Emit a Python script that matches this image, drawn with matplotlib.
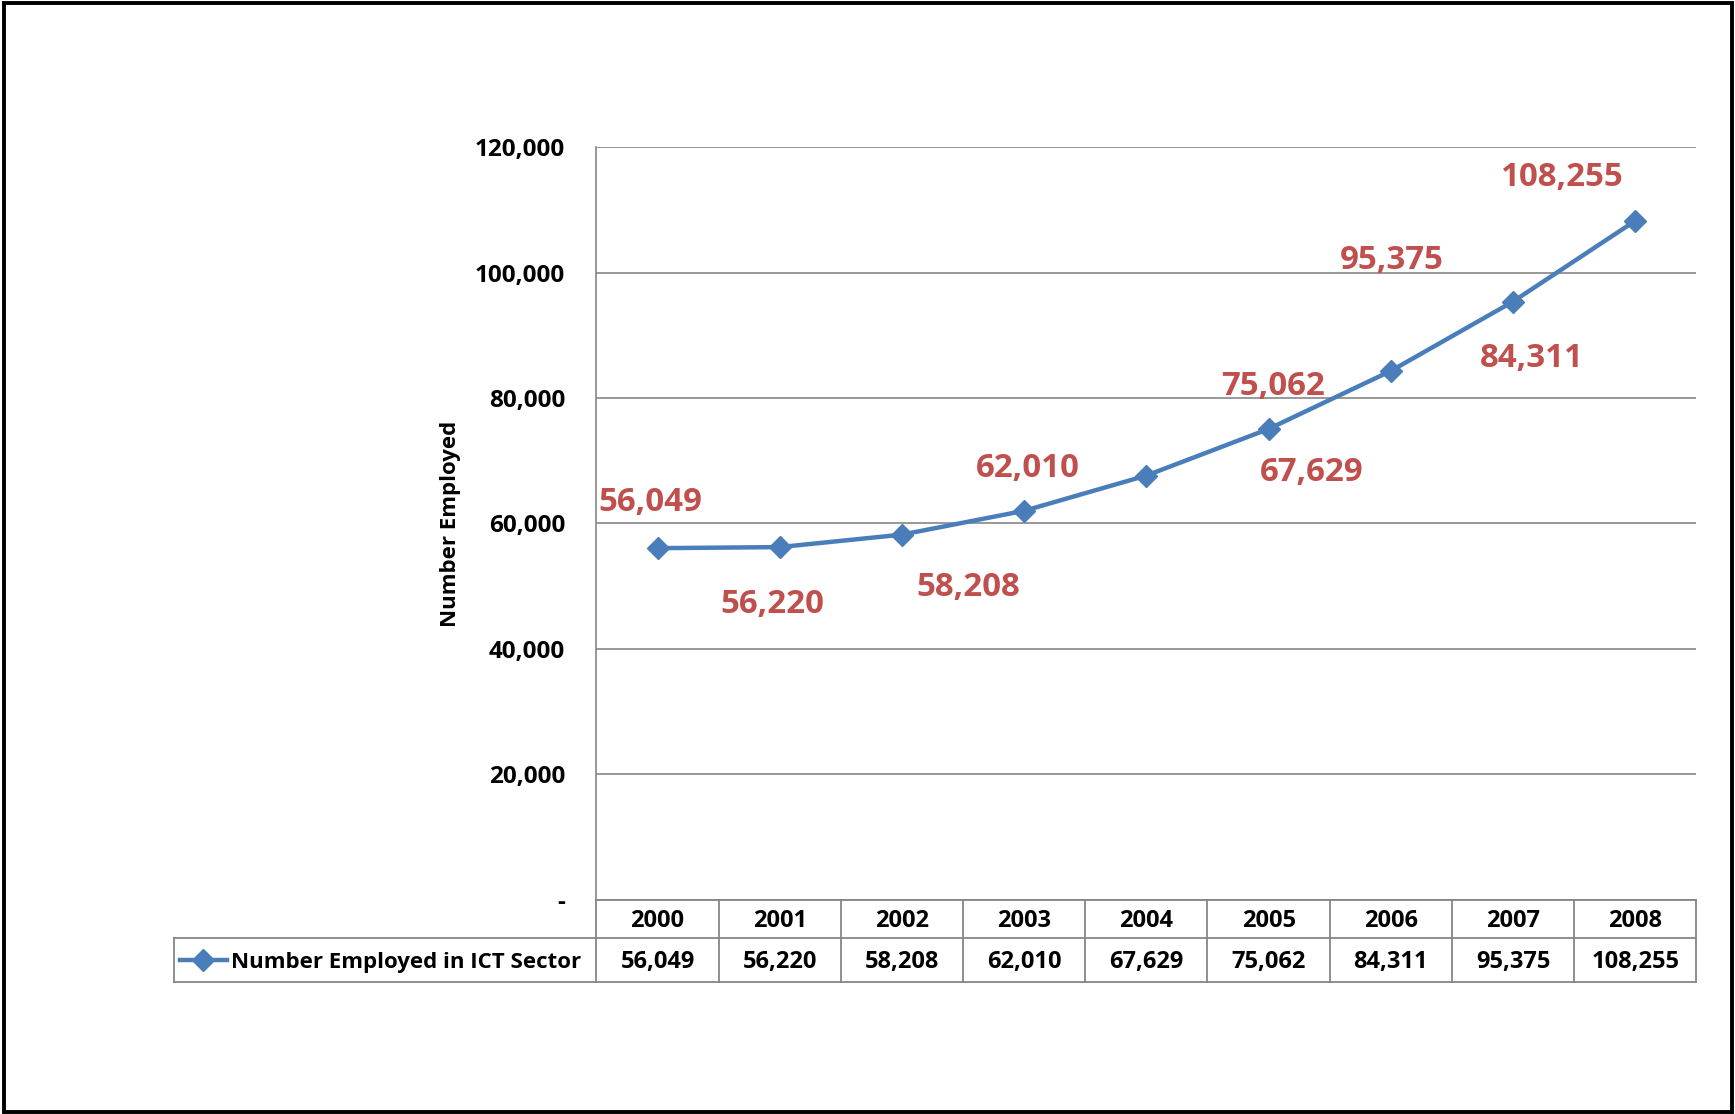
import numpy as np
import matplotlib.pyplot as plt
from matplotlib.patches import Rectangle
from matplotlib.lines import Line2D

plt.rcParams['font.family'] = ['Open Sans', 'DejaVu Sans']
plt.rcParams['font.weight'] = 'bold'

# data
years = ['2000', '2001', '2002', '2003', '2004', '2005', '2006', '2007', '2008']
employed = [56049, 56220, 58208, 62010, 67629, 75062, 84311, 95375, 108255]
series_name = 'Number Employed in ICT Sector'

# where each data label sits (category index, value) - labels in the original are scattered
label_x = [-0.06, 0.94, 2.54, 3.03, 5.35, 5.04, 7.15, 6.01, 7.40]
label_y = [63300, 47100, 49800, 68800, 68100, 81900, 86300, 102000, 115100]

line_color = '#4a7ebb'
label_color = '#c0504d'
grid_color = '#868686'

W, H = 1735, 1114
fig = plt.figure(figsize=(W / 100, H / 100), dpi=100)

# plot area in pixels
px_left, px_right, px_top, px_bottom = 596.4, 1696.3, 147.2, 899.6
row_split, table_bottom = 938.3, 981.5
legend_left = 173.7

ax = fig.add_axes([px_left / W, 1 - px_bottom / H, (px_right - px_left) / W, (px_bottom - px_top) / H])
x = np.arange(len(years))
ax.plot(x, employed, color=line_color, lw=3.2, marker='D', markersize=11, zorder=3)

ax.set_xlim(-0.5, len(years) - 0.5)
ax.set_ylim(0, 120000)
ax.set_yticks(np.arange(0, 120001, 20000))
ax.set_yticklabels(['-' if v == 0 else f'{v:,}' for v in range(0, 120001, 20000)])
ax.tick_params(axis='y', length=0, pad=22.5, labelsize=17.5)
ax.set_xticks([])
ax.grid(axis='y', color=grid_color, lw=1.2)
ax.set_axisbelow(True)
for s in ['top', 'right', 'bottom']:
    ax.spines[s].set_visible(False)
ax.spines['left'].set_color(grid_color)
ax.spines['left'].set_linewidth(1.2)
ax.set_ylabel('Number Employed', fontsize=16, fontweight='bold')
ax.yaxis.set_label_coords(-0.123, 0.5)

for lx, ly, v in zip(label_x, label_y, employed):
    ax.text(lx, ly, f'{v:,}', color=label_color, fontsize=23.8, fontweight='bold',
            ha='center', va='center')

# data table under the plot
tax = fig.add_axes([px_left / W, 1 - table_bottom / H, (px_right - px_left) / W, (table_bottom - px_bottom) / H])
tax.set_xlim(-0.5, len(years) - 0.5)
tax.set_ylim(0, 1)
tax.axis('off')
split = (table_bottom - row_split) / (table_bottom - px_bottom)
step = (px_right - px_left) / len(years)
lx0 = -0.5 - (px_left - legend_left) / step

kw = dict(color=grid_color, lw=1.3, clip_on=False)
tax.plot([-0.5, len(years) - 0.5], [1, 1], **kw)
tax.plot([lx0, len(years) - 0.5], [split, split], **kw)
tax.plot([lx0, len(years) - 0.5], [0, 0], **kw)
tax.plot([lx0, lx0], [0, split], **kw)
for i in range(len(years) + 1):
    tax.plot([i - 0.5, i - 0.5], [0, 1], **kw)

for i, (yr, v) in enumerate(zip(years, employed)):
    tax.text(i, (1 + split) / 2 - 0.03, yr, ha='center', va='center', fontsize=17, fontweight='bold')
    tax.text(i, split / 2 - 0.03, f'{v:,}', ha='center', va='center', fontsize=17, fontweight='bold')

# legend key inside the table
hx0 = lx0 + 6 / step
hx1 = lx0 + 53 / step
tax.add_line(Line2D([hx0, hx1], [split / 2, split / 2], color=line_color, lw=3.2,
                    clip_on=False))
tax.plot([(hx0 + hx1) / 2], [split / 2], marker='D', markersize=11, color=line_color, clip_on=False)
tax.text(lx0 + 57 / step, split / 2 - 0.03, series_name, ha='left', va='center', fontsize=16,
         fontweight='bold')

# outer chart border
fig.patches.append(Rectangle((4 / W, 2 / H), 1 - 7 / W, 1 - 5 / H, transform=fig.transFigure,
                             fill=False, edgecolor='black', lw=2.8))

fig.savefig('out.png', dpi=100)
